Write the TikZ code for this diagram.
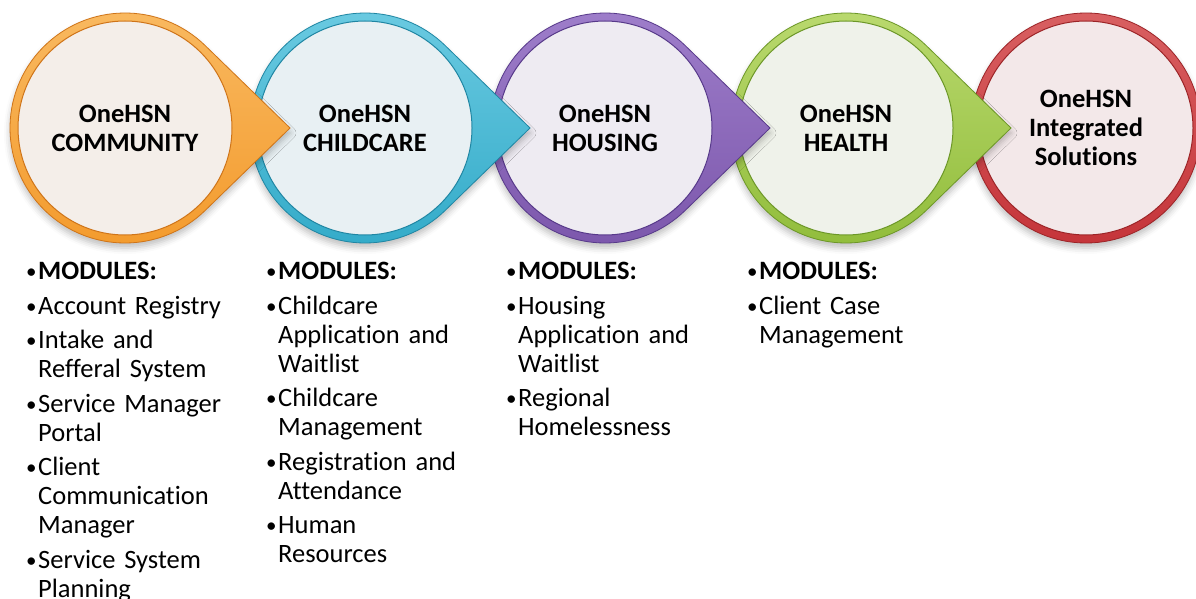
\documentclass[tikz,border=0pt]{standalone}
\usepackage{fontspec}
\setmainfont{Carlito}[Ligatures=NoCommon]
\usetikzlibrary{calc, shadows.blur}

\definecolor{commring}{HTML}{F39A2C}
\definecolor{commtop}{HTML}{F9BA62}
\definecolor{commdark}{HTML}{CF7418}
\definecolor{commfill}{HTML}{F4EEE9}
\definecolor{childring}{HTML}{32AAC8}
\definecolor{childtop}{HTML}{6CCBE2}
\definecolor{childdark}{HTML}{1F86A3}
\definecolor{childfill}{HTML}{E8F0F3}
\definecolor{housering}{HTML}{7B56AB}
\definecolor{housetop}{HTML}{9F7FCB}
\definecolor{housedark}{HTML}{57398A}
\definecolor{housefill}{HTML}{EEEBF2}
\definecolor{healthring}{HTML}{90BC3A}
\definecolor{healthtop}{HTML}{BBDA70}
\definecolor{healthdark}{HTML}{6C9727}
\definecolor{healthfill}{HTML}{EFF2EA}
\definecolor{integring}{HTML}{C5353A}
\definecolor{integtop}{HTML}{D85F61}
\definecolor{integdark}{HTML}{9C2427}
\definecolor{integfill}{HTML}{F3E8E9}

\tikzset{
  drop/.style={
    draw=#1dark, line width=0.8pt, top color=#1top, bottom color=#1ring,
    blur shadow={shadow xshift=0pt, shadow yshift=-5pt,
      shadow blur radius=6pt, shadow opacity=25}
  },
  disc/.style={
    circle, minimum size=214pt, inner sep=0pt, outer sep=0pt,
    draw=#1dark, line width=1pt, fill=#1fill, align=center,
    font=\fontsize{26.5}{29}\selectfont\bfseries
  },
  modlist/.style={
    anchor=north west, text width=235pt, inner sep=0pt,
    font=\fontsize{26.5}{29}\selectfont\setlength{\parskip}{5.5pt}\setlength{\parindent}{0pt}
  }
}
% one bulleted entry, later lines hang under the text
\newcommand{\moditem}[1]{\par\hangindent=12pt\hangafter=1\noindent
  \makebox[12pt][l]{\raisebox{1pt}{\fontsize{21}{21}\selectfont•}}#1\par}
\newcommand{\modhead}{\moditem{\textbf{MODULES:}}}

\begin{document}
\begin{tikzpicture}[x=1pt, y=-1pt]
\useasboundingbox (0,0) rectangle (1196,599);
\clip (0,0) rectangle (1196,599);

% last stage, plain ring
\path[drop=integ] (1086,128) circle[radius=115pt];
\node[disc=integ] (integ) at (1086,128) {OneHSN\\Integrated\\Solutions};

% drops, right to left so each tip lies over the next ring
\foreach \s/\x/\t in {health/846/{OneHSN\\HEALTH}, house/605/{OneHSN\\HOUSING},
                      child/365/{OneHSN\\CHILDCARE}, comm/125/{OneHSN\\COMMUNITY}} {
  \path[drop=\s] (\x,128) ++(45.8:115pt) arc[start angle=45.8, end angle=314.2, radius=115pt]
    -- (\x+165,128) -- cycle;
  \node[disc=\s] (\s) at (\x,128) {\t};
}

% module lists
\node[modlist] (commmods) at (26,245) {\modhead
  \moditem{Account Registry}
  \moditem{Intake and\newline Refferal System}
  \moditem{Service Manager\newline Portal}
  \moditem{Client\newline Communication\newline Manager}
  \moditem{Service System\newline Planning}};
\node[modlist] (childmods) at (266,245) {\modhead
  \moditem{Childcare\newline Application and\newline Waitlist}
  \moditem{Childcare\newline Management}
  \moditem{Registration and\newline Attendance}
  \moditem{Human\newline Resources}};
\node[modlist] (housemods) at (506,245) {\modhead
  \moditem{Housing\newline Application and\newline Waitlist}
  \moditem{Regional\newline Homelessness}};
\node[modlist] (healthmods) at (747,245) {\modhead
  \moditem{Client Case\newline Management}};

\end{tikzpicture}
\end{document}
